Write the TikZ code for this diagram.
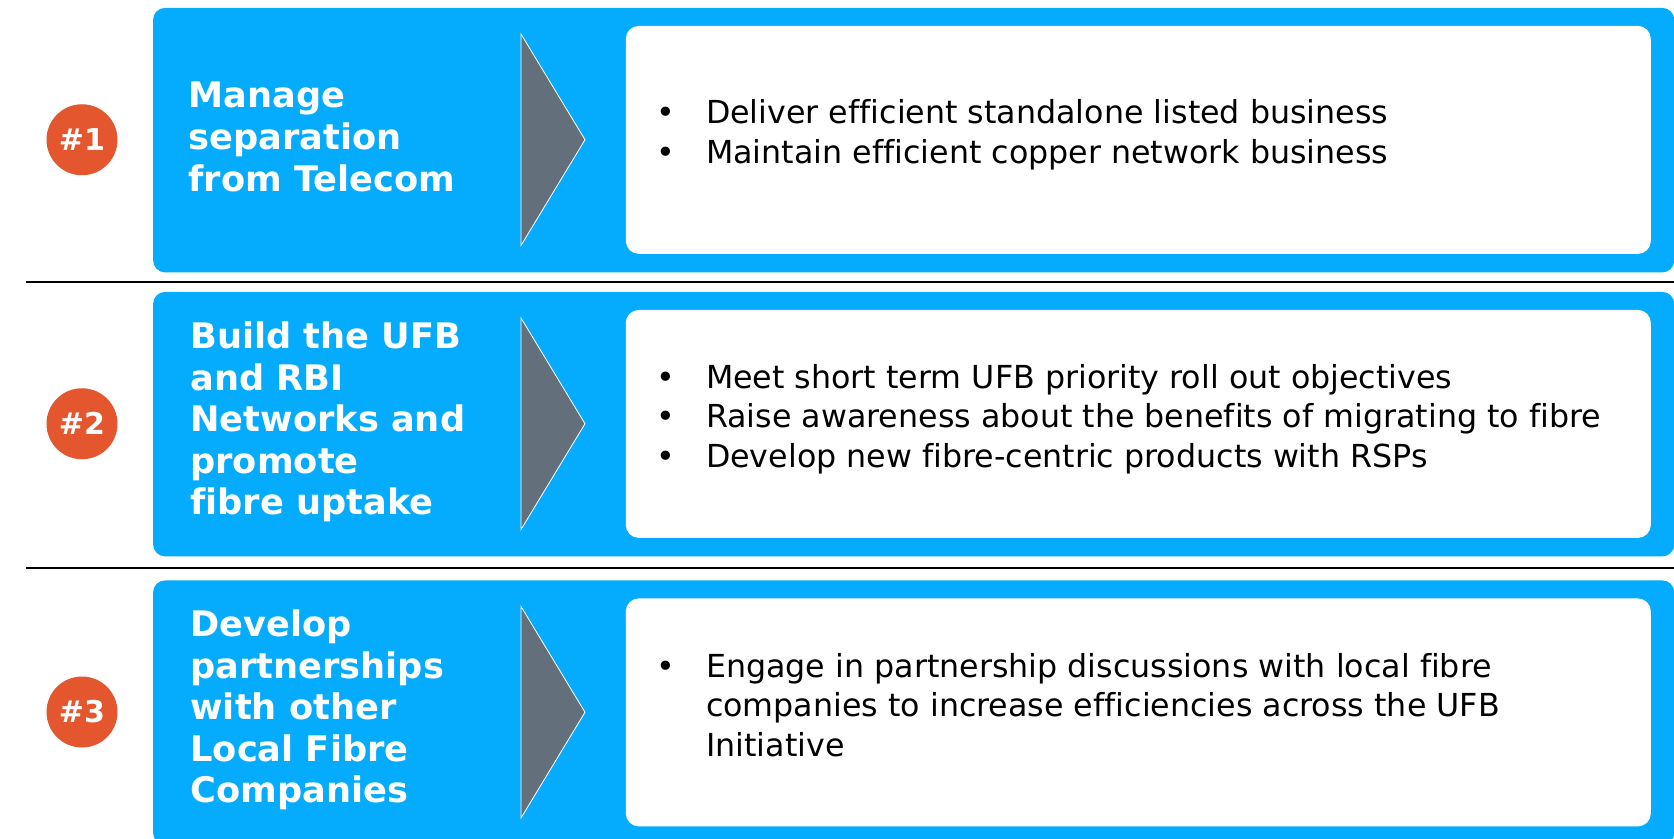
\documentclass[tikz,border=0pt]{standalone}
\usepackage{fontspec}
\setmainfont[Ligatures=NoCommon]{DejaVu Sans}
\usepackage{tikz}
\usetikzlibrary{positioning}
\usepackage{xcolor}
\definecolor{PanelBlue}{RGB}{5,172,254}
\definecolor{BadgeOrange}{RGB}{228,87,46}
\definecolor{ArrowGrey}{RGB}{99,112,124}
\definecolor{DarkText}{RGB}{0,0,0}
% bullet with a hanging indent
\newcommand{\bul}[1]{\makebox[24.85pt][l]{\textbullet}#1}
\newcommand{\cont}[1]{\hspace*{24.85pt}#1}

\begin{document}
\begin{tikzpicture}[
    x=0.5pt, y=-0.5pt,
    panel/.style={rectangle, rounded corners=6pt, fill=PanelBlue,
        minimum width=760.6pt, minimum height=132.25pt, inner sep=0pt, anchor=north west},
    box/.style={rectangle, rounded corners=6.5pt, fill=white,
        minimum width=512.5pt, minimum height=114pt, inner sep=0pt},
    badge/.style={circle, fill=BadgeOrange, minimum size=35.5pt, inner sep=0pt,
        text=white, font=\fontsize{15}{18}\selectfont\bfseries},
    goal/.style={align=left, inner sep=0pt, anchor=west, text=white,
        font=\fontsize{17.6}{20.8}\selectfont\bfseries},
    points/.style={align=left, inner sep=0pt, anchor=west, text=DarkText,
        font=\fontsize{15.85}{19.75}\selectfont},
    tri/.style={fill=ArrowGrey, draw=white, line width=0.4pt},
    sep/.style={line width=1pt, black},
]
\fill[white] (0,0) rectangle (1674,839);
\useasboundingbox (0,0) rectangle (1674,839);

% row 1
\node[panel] (p1) at (152.7,7.5) {};
\node[box, below left=9pt and 11.75pt of p1.north east] (b1) {};
\draw[tri] (521,34) -- (585,139.75) -- (521,245.5) -- cycle;
\node[badge] (n1) at (82,139.75) {\#1};
\node[goal] (g1) at (188,137) {Manage\\separation\\from Telecom};
\node[points] (l1) at (656,135) {\bul{Deliver efficient standalone listed business}\\
    \bul{Maintain efficient copper network business}};

\draw[sep] (25.6,282) -- (1674,282);

% row 2
\node[panel] (p2) at (152.7,291.5) {};
\node[box, below left=9pt and 11.75pt of p2.north east] (b2) {};
\draw[tri] (521,318) -- (585,423.75) -- (521,529.5) -- cycle;
\node[badge] (n2) at (82,423.75) {\#2};
\node[goal] (g2) at (190,422) {Build the UFB\\and RBI\\Networks and\\promote\\fibre uptake};
\node[points] (l2) at (656,419) {\bul{Meet short term UFB priority roll out objectives}\\
    \bul{Raise awareness about the benefits of migrating to fibre}\\
    \bul{Develop new fibre-centric products with RSPs}};

\draw[sep] (25.6,568) -- (1674,568);

% row 3
\node[panel] (p3) at (152.7,580) {};
\node[box, below left=9pt and 11.75pt of p3.north east] (b3) {};
\draw[tri] (521,606.5) -- (585,712.25) -- (521,818) -- cycle;
\node[badge] (n3) at (82,712) {\#3};
\node[goal] (g3) at (190,710) {Develop\\partnerships\\with other\\Local Fibre\\Companies};
\node[points] (l3) at (656,705) {\bul{Engage in partnership discussions with local fibre}\\
    \cont{companies to increase efficiencies across the UFB}\\
    \cont{Initiative}};
\end{tikzpicture}
\end{document}
